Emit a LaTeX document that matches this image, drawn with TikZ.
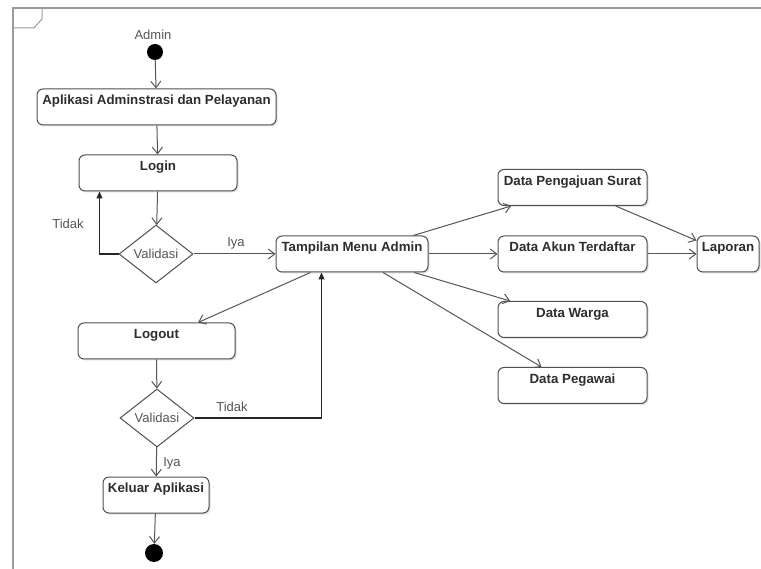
\documentclass[tikz,border=0pt]{standalone}
\usepackage{fontspec}
\setmainfont{Liberation Sans}
\usepackage{xcolor}
\usetikzlibrary{arrows.meta,shapes.geometric,shadows}
\definecolor{linegray}{HTML}{555555}
\definecolor{boxgray}{HTML}{505050}
\definecolor{textgray}{HTML}{2E2E2E}
\definecolor{lblgray}{HTML}{555555}
\definecolor{framegray}{HTML}{9A9A9A}
\begin{document}
\begin{tikzpicture}[x=1pt,y=-1pt]
\useasboundingbox (0,0) rectangle (761,569);
\tikzstyle{act} = [draw=boxgray, line width=1pt, rounded corners=6pt, fill=white,
	drop shadow={shadow xshift=1.5pt, shadow yshift=-1.5pt, fill=black, opacity=0.12},
	font=\fontsize{13.3}{15}\selectfont\bfseries, text=textgray,
	text height=13pt, text depth=17pt, inner ysep=3pt, inner xsep=0pt]
\tikzstyle{dec} = [diamond, aspect=1.3, draw=boxgray, line width=1pt, fill=white,
	minimum width=74pt, minimum height=58pt, inner sep=0pt,
	font=\fontsize{13}{15}\selectfont, text=lblgray]
\tikzstyle{startdot} = [circle, fill=black, minimum size=16pt, inner sep=0pt]
\tikzstyle{lbl} = [font=\fontsize{13}{15}\selectfont, text=lblgray, inner sep=0pt]
\tikzstyle{inflow} = [draw=linegray, line width=1pt, {Straight Barb[length=6.5pt,width=10pt]}-]
\tikzstyle{backflow} = [draw=black!85, line width=1.1pt, -{Triangle[length=7pt,width=6pt]}]

% frame
\draw[framegray, line width=1.8pt] (13,569) -- (13,8) -- (761,8);
\draw[framegray, line width=1pt] (13,28) -- (34,28) -- (42,19) -- (42,8);

\node[startdot] (start) at (155,52) {};
\node[lbl] (admin) at (153,35) {Admin};
\node[act, minimum width=239pt] (apl) at (156.5,107) {Aplikasi Adminstrasi dan Pelayanan}
	edge [inflow] (start);
\node[act, minimum width=158pt] (login) at (158,173) {Login}
	edge [inflow] (apl);
\node[dec] (val1) at (156,254) {Validasi}
	edge [inflow] (login);
\node[act, minimum width=152pt] (tampil) at (352,254) {Tampilan Menu Admin}
	edge [inflow] (val1);

\node[act, minimum width=149pt] (surat) at (572.5,187.5) {Data Pengajuan Surat}
	edge [inflow] (tampil);
\node[act, minimum width=149pt] (akun) at (572.5,254) {Data Akun Terdaftar}
	edge [inflow] (tampil);
\node[act, minimum width=149pt] (warga) at (572.5,319.5) {Data Warga}
	edge [inflow] (tampil);
\node[act, minimum width=149pt] (pegawai) at (572.5,385.5) {Data Pegawai}
	edge [inflow] (tampil);
\node[act, minimum width=62pt] (laporan) at (728,254) {Laporan}
	edge [inflow] (surat)
	edge [inflow] (akun);

\node[act, minimum width=157pt] (logout) at (156.5,341) {Logout}
	edge [inflow] (tampil);
\node[dec] (val2) at (157,418) {Validasi}
	edge [inflow] (logout);
\node[act, minimum width=106pt] (keluar) at (156,495) {Keluar Aplikasi}
	edge [inflow] (val2);
\node[startdot, minimum size=18pt] (end) at (154,553) {}
	edge [inflow] (keluar);

% loops back
\draw[backflow] (val1.west) -| ([xshift=21pt]login.south west);
\draw[backflow] (val2.east) -| ([xshift=46pt]tampil.south west);

\node[lbl] (tidak1) at (68,224) {Tidak};
\node[lbl] (iya1) at (236,243) {Iya};
\node[lbl] (tidak2) at (232,407) {Tidak};
\node[lbl] (iya2) at (172,463) {Iya};
\end{tikzpicture}
\end{document}
